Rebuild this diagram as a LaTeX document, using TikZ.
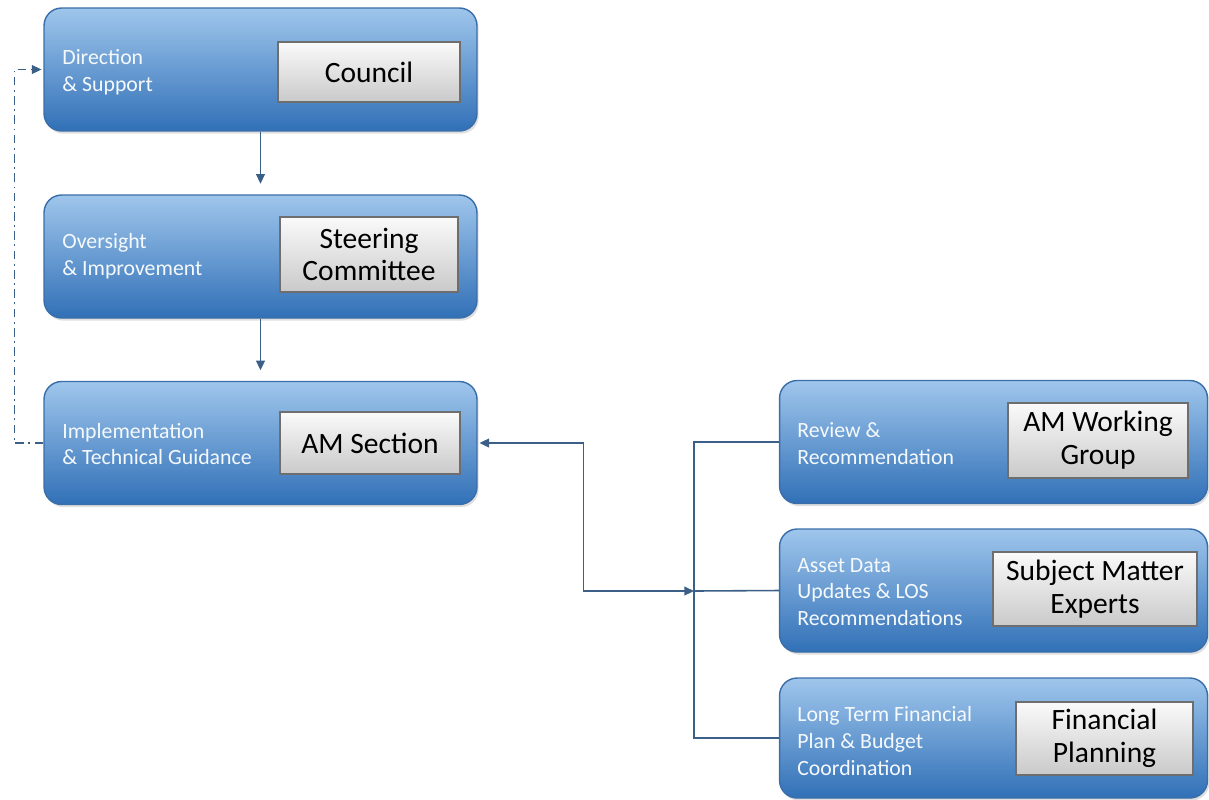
\documentclass[tikz,border=0pt]{standalone}
\usepackage{fontspec}
\setmainfont{Carlito}
\usetikzlibrary{positioning}
\usetikzlibrary{arrows.meta}
\usetikzlibrary{shadows}
\definecolor{unittop}{HTML}{9FC6EC}
\definecolor{unitmid}{HTML}{5293D5}
\definecolor{unitbot}{HTML}{3170B7}
\definecolor{unitdraw}{HTML}{3A6EA8}
\definecolor{roledraw}{HTML}{6E6E6E}
\definecolor{linkcol}{HTML}{3B5F87}
\tikzset{
    unitbox/.style = {rectangle, rounded corners=10pt, draw=unitdraw, line width=0.8pt, top color=unittop, middle color=unitmid, bottom color=unitbot, minimum height=2.46cm, inner sep=0pt, drop shadow={opacity=0.25, shadow xshift=1pt, shadow yshift=-1.5pt}},
    rolebox/.style = {rectangle, draw=roledraw, line width=1.2pt, top color=gray!4, bottom color=gray!42, align=center, inner sep=0pt, font=\fontsize{16.8}{18.7}\selectfont, text=black},
    unitlabel/.style = {anchor=west, align=left, inner sep=0pt, text=white!94!unitmid, font=\fontsize{12.4}{15.3}\selectfont},
    edgeb/.style = {-{Triangle[length=5.5pt,width=5pt]}, line width=0.9pt, linkcol},
    edgebb/.style = {{Triangle[length=5.5pt,width=5pt]}-{Triangle[length=5.5pt,width=5pt]}, line width=0.9pt, linkcol},
    edgen/.style = {-, line width=0.9pt, linkcol},
    edgedd/.style = {-{Triangle[length=5.5pt,width=5pt]}, line width=0.8pt, linkcol, dash pattern=on 5pt off 2.5pt on 1pt off 2.5pt}
}

\begin{document}
\begin{tikzpicture}[x=0.02cm, y=-0.02cm]
  \useasboundingbox (0,0) rectangle (1209,799);
  % left column
  \node[unitbox, minimum width=8.66cm] (council) at (260.5,69.5) {};
  \node[rolebox, minimum width=3.64cm, minimum height=1.2cm] (councilrole) at (369,72) {Council};
  \node[unitlabel] (councillbl) at (62,72) {Direction\\\& Support};

  \node[unitbox, minimum width=8.66cm] (steer) at (260.5,256.5) {};
  \node[rolebox, minimum width=3.56cm, minimum height=1.5cm] (steerrole) at (369,254.5) {Steering\\Committee};
  \node[unitlabel] (steerlbl) at (62,256) {Oversight\\\& Improvement};

  \node[unitbox, minimum width=8.66cm] (amsec) at (260.5,443) {};
  \node[rolebox, minimum width=3.6cm, minimum height=1.24cm] (amsecrole) at (370,443) {AM Section};
  \node[unitlabel] (amseclbl) at (62,444) {Implementation\\\& Technical Guidance};

  % right column
  \node[unitbox, minimum width=8.56cm] (wg) at (993.5,442) {};
  \node[rolebox, minimum width=3.6cm, minimum height=1.5cm] (wgrole) at (1098,440.5) {AM Working\\Group};
  \node[unitlabel] (wglbl) at (797,444) {Review \&\\Recommendation};

  \node[unitbox, minimum width=8.56cm] (sme) at (993.5,590.5) {};
  \node[rolebox, minimum width=4.08cm, minimum height=1.48cm] (smerole) at (1095,589) {Subject Matter\\Experts};
  \node[unitlabel] (smelbl) at (797,592) {Asset Data\\Updates \& LOS\\Recommendations};

  \node[unitbox, minimum width=8.56cm, minimum height=2.4cm] (fp) at (993.5,738) {};
  \node[rolebox, minimum width=3.54cm, minimum height=1.46cm] (fprole) at (1104.5,738.5) {Financial\\Planning};
  \node[unitlabel] (fplbl) at (797,741) {Long Term Financial\\Plan \& Budget\\Coordination};

  % connectors
  \coordinate (spine) at (694,591);
  \draw[edgeb, shorten >=6pt] (council.south) -- (steer.north);
  \draw[edgeb, shorten >=6pt] (steer.south) -- (amsec.north);
  \draw[edgedd, shorten >=1pt] (amsec.west) -- ++(-29,0) |- (council.west);
  \draw[edgebb, shorten <=1pt] (amsec.east) -- ++(106,0) |- (spine);
  \draw[edgen] (wg.west) -- (wg.west -| spine) -- (fp.west -| spine) -- (fp.west);
  \draw[edgen] (spine) -- (sme.west);
\end{tikzpicture}
\end{document}
